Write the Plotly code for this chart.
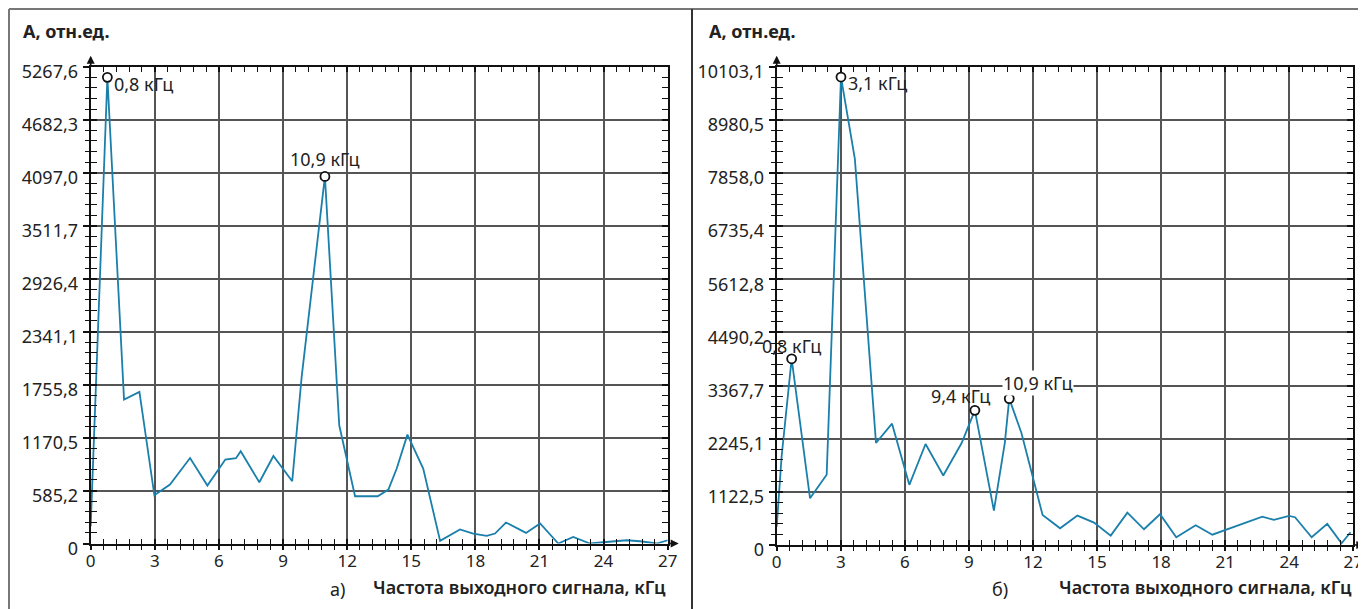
import plotly.graph_objects as go

# ---------------- data ----------------
left_x = [0, 0.78, 1.56, 2.28, 2.98, 3.71, 4.65, 5.46, 6.30, 6.80, 7.02, 7.89, 8.55, 9.43,
          9.87, 10.96, 11.63, 12.37, 13.43, 13.93, 14.32, 14.82, 15.56, 16.35, 17.28, 17.9,
          18.53, 18.92, 19.43, 20.37, 21.03, 21.88, 22.58, 23.36, 23.99, 25.08, 25.7, 26.49, 27]
left_y = [190, 5150, 1590, 1674, 533, 651, 945, 640, 927, 942, 1019, 677, 967, 688,
          1839, 4055, 1306, 522, 522, 596, 828, 1203, 828, 29, 155, 110,
          84, 110, 232, 117, 221, 0, 73, 0, 14, 36, 25, 0, 36]

right_x = [0, 0.23, 0.70, 1.56, 2.34, 3.01, 3.66, 4.65, 5.40, 6.21, 6.97, 7.80, 8.66, 9.28,
           10.17, 10.68, 10.89, 11.46, 12.45, 13.27, 14.08, 14.86, 15.64, 16.42, 17.2, 17.95,
           18.71, 19.62, 20.40, 22.74, 23.28, 23.99, 24.27, 25.05, 25.78, 26.45, 26.87]
right_y = [388, 1870, 3933, 989, 1483, 9885, 8154, 2154, 2563, 1271, 2133, 1468, 2154, 2845,
           727, 2154, 3092, 2366, 635, 353, 621, 473, 198, 684, 332, 650,
           163, 417, 218, 600, 530, 614, 587, 163, 445, 36, 269]

left_peak_x = [0.78, 10.96]
left_peak_y = [5150, 4055]
left_peak_labels = ["0,8 кГц", "10,9 кГц"]

right_peak_x = [0.70, 3.01, 9.28, 10.89]
right_peak_y = [3933, 9885, 2845, 3092]
right_peak_labels = ["0,8 кГц", "3,1 кГц", "9,4 кГц", "10,9 кГц"]

x_tickvals = [0, 3, 6, 9, 12, 15, 18, 21, 24, 27]
x_ticktext = ["0", "3", "6", "9", "12", "15", "18", "21", "24", "27"]

left_y_ticktext = ["0", "585,2", "1170,5", "1755,8", "2341,1", "2926,4",
                   "3511,7", "4097,0", "4682,3", "5267,6"]
right_y_ticktext = ["0", "1122,5", "2245,1", "3367,7", "4490,2", "5612,8",
                    "6735,4", "7858,0", "8980,5", "10103,1"]
left_ymax = 5267.6
right_ymax = 10103.1

panel_letters = ["а)", "б)"]
x_title = "Частота выходного сигнала, кГц"
y_title = "А, отн.ед."

# ---------------- style ----------------
OFF = 8  # page body margin
W, H = 1366 - OFF, 609 - OFF
FONT = "Noto Sans"
TXT = "#222222"
LINE_COLOR = "#1a7fab"
GRID = "#555555"


def px(v):
    return (v - OFF) / W


def py(v):
    return 1 - (v - OFF) / H


left_dom_x = [px(90.7), px(667.7)]
right_dom_x = [px(776.7), px(1353.3)]
left_dom_y = [py(543.5), py(66.7)]
right_dom_y = [py(545.0), py(66.7)]

fig = go.Figure()

fig.add_trace(go.Scatter(x=left_x, y=left_y, mode="lines", xaxis="x", yaxis="y",
                         line=dict(color=LINE_COLOR, width=1.8), hoverinfo="skip", showlegend=False))
fig.add_trace(go.Scatter(x=left_peak_x, y=left_peak_y, mode="markers", xaxis="x", yaxis="y",
                         marker=dict(symbol="circle", size=9, color="white",
                                     line=dict(color="#111111", width=1.8)),
                         hoverinfo="skip", showlegend=False))
fig.add_trace(go.Scatter(x=right_x, y=right_y, mode="lines", xaxis="x2", yaxis="y2",
                         line=dict(color=LINE_COLOR, width=1.8), hoverinfo="skip", showlegend=False))
fig.add_trace(go.Scatter(x=right_peak_x, y=right_peak_y, mode="markers", xaxis="x2", yaxis="y2",
                         marker=dict(symbol="circle", size=9, color="white",
                                     line=dict(color="#111111", width=1.8)),
                         hoverinfo="skip", showlegend=False))
# empty traces so the overlay axes (outside ticks + labels) are drawn
fig.add_trace(go.Scatter(x=[None], y=[None], mode="lines", xaxis="x3", yaxis="y3",
                         hoverinfo="skip", showlegend=False))
fig.add_trace(go.Scatter(x=[None], y=[None], mode="lines", xaxis="x4", yaxis="y4",
                         hoverinfo="skip", showlegend=False))

tickfont = dict(family=FONT, size=17, color=TXT)


def main_x(domain, anchor):
    return dict(domain=domain, anchor=anchor, range=[0, 27], tickvals=x_tickvals,
                automargin=False,
                showticklabels=False, ticks="inside", ticklen=5, tickwidth=1.5, tickcolor="#111",
                showline=True, linecolor="#111", linewidth=2, mirror="ticks",
                showgrid=True, gridcolor=GRID, gridwidth=1.5, zeroline=False,
                minor=dict(tick0=0, dtick=0.6, ticks="inside", ticklen=5, tickwidth=1.3,
                           tickcolor="#111", showgrid=False))


def over_x(domain, anchor, overlay):
    return dict(domain=domain, anchor=anchor, overlaying=overlay, side="bottom",
                automargin=False,
                range=[0, 27], tickvals=x_tickvals, ticktext=x_ticktext,
                tickfont=tickfont, ticks="outside", ticklen=5, tickwidth=1.5, tickcolor="#111",
                ticklabelstandoff=-3,
                showline=False, showgrid=False, zeroline=False,
                minor=dict(tick0=0, dtick=0.6, ticks="outside", ticklen=5, tickwidth=1.3,
                           tickcolor="#111", showgrid=False))


def main_y(domain, anchor, ymax):
    return dict(domain=domain, anchor=anchor, range=[0, ymax],
                automargin=False,
                tickvals=[ymax * i / 9 for i in range(10)],
                showticklabels=False, ticks="inside", ticklen=6, tickwidth=1.5, tickcolor="#111",
                showline=True, linecolor="#111", linewidth=2, mirror="ticks",
                showgrid=True, gridcolor=GRID, gridwidth=1.5, zeroline=False,
                minor=dict(tick0=0, dtick=ymax / 45, ticks="inside", ticklen=6, tickwidth=1.3,
                           tickcolor="#111", showgrid=False))


def over_y(domain, anchor, overlay, ymax, ticktext):
    return dict(domain=domain, anchor=anchor, overlaying=overlay, side="left",
                automargin=False,
                range=[0, ymax], tickvals=[ymax * i / 9 for i in range(10)], ticktext=ticktext,
                tickfont=dict(family=FONT, size=18, color=TXT),
                ticks="outside", ticklen=7, tickwidth=1.5, tickcolor="#111",
                ticklabelshift=5, ticklabelstandoff=1,
                showline=False, showgrid=False, zeroline=False,
                minor=dict(tick0=0, dtick=ymax / 45, ticks="outside", ticklen=5, tickwidth=1.3,
                           tickcolor="#111", showgrid=False))


layout = dict(
    width=W, height=H, autosize=False,
    margin=dict(l=0, r=0, t=0, b=0, pad=0, autoexpand=False),
    paper_bgcolor="white", plot_bgcolor="rgba(0,0,0,0)",
    font=dict(family=FONT, color=TXT),
    xaxis=main_x(left_dom_x, "y"),
    yaxis=main_y(left_dom_y, "x", left_ymax),
    xaxis2=main_x(right_dom_x, "y2"),
    yaxis2=main_y(right_dom_y, "x2", right_ymax),
    xaxis3=over_x(left_dom_x, "y3", "x"),
    yaxis3=over_y(left_dom_y, "x3", "y", left_ymax, left_y_ticktext),
    xaxis4=over_x(right_dom_x, "y4", "x2"),
    yaxis4=over_y(right_dom_y, "x4", "y2", right_ymax, right_y_ticktext),
    showlegend=False,
)
fig.update_layout(**layout)

# outer frame
frame = dict(color="#777777", width=2)
fig.add_shape(type="line", xref="paper", yref="paper", x0=px(9), x1=1.01, y0=py(9), y1=py(9), line=frame)
fig.add_shape(type="line", xref="paper", yref="paper", x0=px(9), x1=px(9), y0=-0.01, y1=py(9), line=frame)
fig.add_shape(type="line", xref="paper", yref="paper", x0=px(692), x1=px(692), y0=-0.01, y1=py(9),
              line=dict(color="#333333", width=2))

ann = []
lab_font = dict(family=FONT, size=18, color=TXT)
# peak labels, left
ann.append(dict(x=left_peak_x[0], y=left_peak_y[0], xref="x", yref="y", text=left_peak_labels[0],
                showarrow=False, xanchor="left", yanchor="middle", xshift=5, yshift=-7, font=lab_font))
ann.append(dict(x=left_peak_x[1], y=left_peak_y[1], xref="x", yref="y", text=left_peak_labels[1],
                showarrow=False, xanchor="center", yanchor="middle", yshift=17, font=lab_font))
# peak labels, right
ann.append(dict(x=right_peak_x[0], y=right_peak_y[0], xref="x2", yref="y2", text=right_peak_labels[0],
                showarrow=False, xanchor="center", yanchor="middle", yshift=13, font=lab_font))
ann.append(dict(x=right_peak_x[1], y=right_peak_y[1], xref="x2", yref="y2", text=right_peak_labels[1],
                showarrow=False, xanchor="left", yanchor="middle", xshift=5, yshift=-6, font=lab_font))
ann.append(dict(x=right_peak_x[2], y=right_peak_y[2], xref="x2", yref="y2", text=right_peak_labels[2],
                showarrow=False, xanchor="center", yanchor="middle", xshift=-14, yshift=14, font=lab_font))
ann.append(dict(x=right_peak_x[3], y=right_peak_y[3], xref="x2", yref="y2", text=right_peak_labels[3],
                showarrow=False, xanchor="left", yanchor="middle", xshift=-7, yshift=16, font=lab_font,
                bgcolor="white", borderpad=0))

# axis arrows
for xr, yr, ymax in (("x", "y", left_ymax), ("x2", "y2", right_ymax)):
    ann.append(dict(x=0, y=ymax, xref=xr, yref=yr, text="", showarrow=True, arrowhead=2,
                    arrowsize=1, arrowwidth=1.6, arrowcolor="#111", ax=0, ay=12, yshift=11, standoff=0))
    ann.append(dict(x=27, y=0, xref=xr, yref=yr, text="", showarrow=True, arrowhead=2,
                    arrowsize=1, arrowwidth=1.6, arrowcolor="#111", ax=-12, ay=0, xshift=11, standoff=0))

title_font = dict(family=FONT, size=18, color=TXT, weight="bold")
# y titles
ann.append(dict(x=px(21), y=py(31), xref="paper", yref="paper", text=y_title, showarrow=False,
                xanchor="left", yanchor="middle", font=title_font))
ann.append(dict(x=px(707), y=py(31), xref="paper", yref="paper", text=y_title, showarrow=False,
                xanchor="left", yanchor="middle", font=title_font))
# x titles
xt_font = dict(family=FONT, size=18, color=TXT, weight=600)
ann.append(dict(x=px(668), y=py(587), xref="paper", yref="paper", text=x_title, showarrow=False,
                xanchor="right", yanchor="middle", font=xt_font))
ann.append(dict(x=px(1354), y=py(587), xref="paper", yref="paper", text=x_title, showarrow=False,
                xanchor="right", yanchor="middle", font=xt_font))
# panel letters
ann.append(dict(x=px(337), y=py(589), xref="paper", yref="paper", text=panel_letters[0], showarrow=False,
                xanchor="center", yanchor="middle", font=lab_font))
ann.append(dict(x=px(1000), y=py(589), xref="paper", yref="paper", text=panel_letters[1], showarrow=False,
                xanchor="center", yanchor="middle", font=lab_font))

fig.update_layout(annotations=ann)

fig.write_html("out.html")
